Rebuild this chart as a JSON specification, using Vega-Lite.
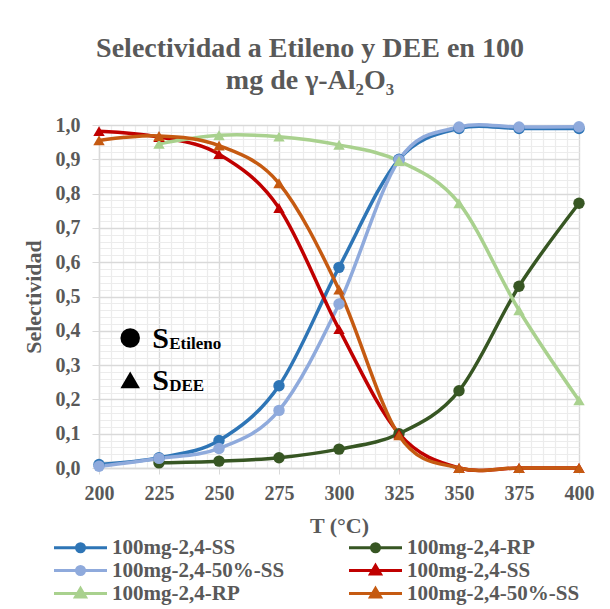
{
  "$schema": "https://vega.github.io/schema/vega-lite/v6.json",
  "width": 480,
  "height": 343,
  "autosize": {"type": "none"},
  "padding": {"left": 99, "top": 125, "right": 31, "bottom": 141},
  "background": "white",
  "title": {
    "text": ["Selectividad a Etileno y DEE en 100", "mg de γ-Al₂O₃"],
    "font": "'Liberation Serif', 'Times New Roman', serif",
    "fontSize": 28,
    "fontWeight": "bold",
    "color": "#595959",
    "anchor": "middle",
    "dx": -29,
    "offset": 20,
    "lineHeight": 32
  },
  "config": {
    "view": {"stroke": null},
    "axis": {
      "labelFont": "'Liberation Serif', 'Times New Roman', serif",
      "labelFontWeight": "bold",
      "labelColor": "#595959",
      "labelFontSize": 20,
      "labelFlush": false,
      "titleFont": "'Liberation Serif', 'Times New Roman', serif",
      "titleFontWeight": "bold",
      "titleColor": "#595959",
      "titleFontSize": 22
    }
  },
  "datasets": {
    "sel": [
      {"T": 200, "S": 0.01, "serie": "1E|100mg-2,4-SS", "tipo": "Etileno"},
      {"T": 225, "S": 0.03, "serie": "1E|100mg-2,4-SS", "tipo": "Etileno"},
      {"T": 250, "S": 0.08, "serie": "1E|100mg-2,4-SS", "tipo": "Etileno"},
      {"T": 275, "S": 0.24, "serie": "1E|100mg-2,4-SS", "tipo": "Etileno"},
      {"T": 300, "S": 0.585, "serie": "1E|100mg-2,4-SS", "tipo": "Etileno"},
      {"T": 325, "S": 0.9, "serie": "1E|100mg-2,4-SS", "tipo": "Etileno"},
      {"T": 350, "S": 0.99, "serie": "1E|100mg-2,4-SS", "tipo": "Etileno"},
      {"T": 375, "S": 0.99, "serie": "1E|100mg-2,4-SS", "tipo": "Etileno"},
      {"T": 400, "S": 0.99, "serie": "1E|100mg-2,4-SS", "tipo": "Etileno"},
      {"T": 225, "S": 0.015, "serie": "2E|100mg-2,4-RP", "tipo": "Etileno"},
      {"T": 250, "S": 0.02, "serie": "2E|100mg-2,4-RP", "tipo": "Etileno"},
      {"T": 275, "S": 0.03, "serie": "2E|100mg-2,4-RP", "tipo": "Etileno"},
      {"T": 300, "S": 0.055, "serie": "2E|100mg-2,4-RP", "tipo": "Etileno"},
      {"T": 325, "S": 0.1, "serie": "2E|100mg-2,4-RP", "tipo": "Etileno"},
      {"T": 350, "S": 0.225, "serie": "2E|100mg-2,4-RP", "tipo": "Etileno"},
      {"T": 375, "S": 0.53, "serie": "2E|100mg-2,4-RP", "tipo": "Etileno"},
      {"T": 400, "S": 0.772, "serie": "2E|100mg-2,4-RP", "tipo": "Etileno"},
      {"T": 200, "S": 0.005, "serie": "3E|100mg-2,4-50%-SS", "tipo": "Etileno"},
      {"T": 225, "S": 0.028, "serie": "3E|100mg-2,4-50%-SS", "tipo": "Etileno"},
      {"T": 250, "S": 0.057, "serie": "3E|100mg-2,4-50%-SS", "tipo": "Etileno"},
      {"T": 275, "S": 0.168, "serie": "3E|100mg-2,4-50%-SS", "tipo": "Etileno"},
      {"T": 300, "S": 0.478, "serie": "3E|100mg-2,4-50%-SS", "tipo": "Etileno"},
      {"T": 325, "S": 0.898, "serie": "3E|100mg-2,4-50%-SS", "tipo": "Etileno"},
      {"T": 350, "S": 0.994, "serie": "3E|100mg-2,4-50%-SS", "tipo": "Etileno"},
      {"T": 375, "S": 0.994, "serie": "3E|100mg-2,4-50%-SS", "tipo": "Etileno"},
      {"T": 400, "S": 0.995, "serie": "3E|100mg-2,4-50%-SS", "tipo": "Etileno"},
      {"T": 200, "S": 0.982, "serie": "4D|100mg-2,4-SS", "tipo": "DEE"},
      {"T": 225, "S": 0.965, "serie": "4D|100mg-2,4-SS", "tipo": "DEE"},
      {"T": 250, "S": 0.915, "serie": "4D|100mg-2,4-SS", "tipo": "DEE"},
      {"T": 275, "S": 0.758, "serie": "4D|100mg-2,4-SS", "tipo": "DEE"},
      {"T": 300, "S": 0.405, "serie": "4D|100mg-2,4-SS", "tipo": "DEE"},
      {"T": 325, "S": 0.1, "serie": "4D|100mg-2,4-SS", "tipo": "DEE"},
      {"T": 350, "S": 0.0, "serie": "4D|100mg-2,4-SS", "tipo": "DEE"},
      {"T": 375, "S": 0.0, "serie": "4D|100mg-2,4-SS", "tipo": "DEE"},
      {"T": 400, "S": 0.0, "serie": "4D|100mg-2,4-SS", "tipo": "DEE"},
      {"T": 225, "S": 0.945, "serie": "5D|100mg-2,4-RP", "tipo": "DEE"},
      {"T": 250, "S": 0.97, "serie": "5D|100mg-2,4-RP", "tipo": "DEE"},
      {"T": 275, "S": 0.966, "serie": "5D|100mg-2,4-RP", "tipo": "DEE"},
      {"T": 300, "S": 0.942, "serie": "5D|100mg-2,4-RP", "tipo": "DEE"},
      {"T": 325, "S": 0.895, "serie": "5D|100mg-2,4-RP", "tipo": "DEE"},
      {"T": 350, "S": 0.772, "serie": "5D|100mg-2,4-RP", "tipo": "DEE"},
      {"T": 375, "S": 0.46, "serie": "5D|100mg-2,4-RP", "tipo": "DEE"},
      {"T": 400, "S": 0.197, "serie": "5D|100mg-2,4-RP", "tipo": "DEE"},
      {"T": 200, "S": 0.955, "serie": "6D|100mg-2,4-50%-SS", "tipo": "DEE"},
      {"T": 225, "S": 0.968, "serie": "6D|100mg-2,4-50%-SS", "tipo": "DEE"},
      {"T": 250, "S": 0.94, "serie": "6D|100mg-2,4-50%-SS", "tipo": "DEE"},
      {"T": 275, "S": 0.83, "serie": "6D|100mg-2,4-50%-SS", "tipo": "DEE"},
      {"T": 300, "S": 0.52, "serie": "6D|100mg-2,4-50%-SS", "tipo": "DEE"},
      {"T": 325, "S": 0.095, "serie": "6D|100mg-2,4-50%-SS", "tipo": "DEE"},
      {"T": 350, "S": 0.0, "serie": "6D|100mg-2,4-50%-SS", "tipo": "DEE"},
      {"T": 375, "S": 0.0, "serie": "6D|100mg-2,4-50%-SS", "tipo": "DEE"},
      {"T": 400, "S": 0.0, "serie": "6D|100mg-2,4-50%-SS", "tipo": "DEE"}
    ],
    "ann": [
      {"x": 213, "y": 0.379, "tipo": "Etileno", "S": "S", "sub": "Etileno"},
      {"x": 213, "y": 0.257, "tipo": "DEE", "S": "S", "sub": "DEE"}
    ]
  },
  "layer": [
    {
      "data": {"name": "sel"},
      "mark": {"type": "line", "interpolate": "cardinal", "strokeWidth": 3.5},
      "encoding": {
        "x": {
          "field": "T", "type": "quantitative",
          "scale": {"domain": [200, 400], "nice": false, "zero": false},
          "axis": {"orient": "top", "tickCount": 40, "grid": true, "gridColor": "#ececec", "gridWidth": 1.2, "labels": false, "ticks": false, "domain": false, "title": null}
        },
        "y": {
          "field": "S", "type": "quantitative",
          "scale": {"domain": [0, 1], "nice": false},
          "axis": {"orient": "right", "tickCount": 50, "grid": true, "gridColor": "#ececec", "gridWidth": 1.2, "labels": false, "ticks": false, "domain": false, "title": null}
        },
        "color": {
          "field": "serie", "type": "nominal",
          "scale": {
            "domain": ["1E|100mg-2,4-SS", "2E|100mg-2,4-RP", "3E|100mg-2,4-50%-SS", "4D|100mg-2,4-SS", "5D|100mg-2,4-RP", "6D|100mg-2,4-50%-SS"],
            "range": ["#2E75B6", "#375623", "#8FAADC", "#C00000", "#A9D18E", "#C55A11"]
          },
          "legend": {
            "orient": "none",
            "legendX": -47,
            "legendY": 411,
            "direction": "horizontal",
            "columns": 2,
            "columnPadding": 58,
            "rowPadding": 1,
            "title": null,
            "symbolSize": 400,
            "symbolStrokeWidth": 3,
            "labelOffset": 37,
            "labelFont": "'Liberation Serif', 'Times New Roman', serif",
            "labelFontWeight": "bold",
            "labelFontSize": 21,
            "labelColor": "#595959",
            "labelLimit": 300,
            "labelExpr": "split(datum.label, '|')[1]",
            "encode": {
              "symbols": {
                "update": {
                  "shape": {"signal": "substring(datum.value, 1, 2) == 'D' ? 'M-0.95,0H4.35M1.7,-0.5L2.2,0.35L1.2,0.35Z' : 'M-0.95,0H4.35M2.1,0A0.4,0.4,0,1,1,1.3,0A0.4,0.4,0,1,1,2.1,0Z'"},
                  "fill": {"scale": "color", "field": "value"},
                  "stroke": {"scale": "color", "field": "value"},
                  "strokeWidth": {"value": 3},
                  "opacity": {"value": 1}
                }
              }
            }
          }
        }
      }
    },
    {
      "data": {"name": "sel"},
      "mark": {"type": "point", "filled": true, "size": 130, "opacity": 1},
      "encoding": {
        "x": {
          "field": "T", "type": "quantitative",
          "axis": {"orient": "bottom", "values": [200, 225, 250, 275, 300, 325, 350, 375, 400], "grid": true, "gridColor": "#d9d9d9", "gridWidth": 1.3, "domain": true, "domainColor": "#d9d9d9", "domainWidth": 1.3, "ticks": true, "tickColor": "#d9d9d9", "tickSize": 6, "labelPadding": 9, "title": "T (°C)", "titlePadding": 12}
        },
        "y": {
          "field": "S", "type": "quantitative",
          "axis": {"orient": "left", "tickCount": 10, "grid": true, "gridColor": "#d9d9d9", "gridWidth": 1.3, "domain": true, "domainColor": "#d9d9d9", "domainWidth": 1.3, "ticks": true, "tickColor": "#d9d9d9", "tickSize": 7, "labelPadding": 12, "labelExpr": "replace(format(datum.value, '.1f'), '.', ',')", "title": "Selectividad", "titlePadding": 10}
        },
        "color": {"field": "serie", "type": "nominal"},
        "shape": {
          "field": "tipo", "type": "nominal",
          "scale": {"domain": ["Etileno", "DEE"], "range": ["circle", "triangle-up"]},
          "legend": null
        }
      }
    },
    {
      "data": {"name": "ann"},
      "mark": {"type": "point", "filled": true, "size": 380, "color": "black", "opacity": 1},
      "encoding": {
        "x": {"field": "x", "type": "quantitative", "axis": null},
        "y": {"field": "y", "type": "quantitative", "axis": null},
        "shape": {"field": "tipo", "type": "nominal", "legend": null}
      }
    },
    {
      "data": {"name": "ann"},
      "mark": {"type": "text", "align": "left", "baseline": "alphabetic", "dx": 22, "dy": 10, "font": "'Liberation Serif', 'Times New Roman', serif", "fontWeight": "bold", "fontSize": 30, "color": "black"},
      "encoding": {
        "x": {"field": "x", "type": "quantitative", "axis": null},
        "y": {"field": "y", "type": "quantitative", "axis": null},
        "text": {"field": "S"}
      }
    },
    {
      "data": {"name": "ann"},
      "mark": {"type": "text", "align": "left", "baseline": "alphabetic", "dx": 39, "dy": 11, "font": "'Liberation Serif', 'Times New Roman', serif", "fontWeight": "bold", "fontSize": 17, "color": "black"},
      "encoding": {
        "x": {"field": "x", "type": "quantitative", "axis": null},
        "y": {"field": "y", "type": "quantitative", "axis": null},
        "text": {"field": "sub"}
      }
    }
  ],
  "resolve": {"axis": {"x": "independent", "y": "independent"}}
}
